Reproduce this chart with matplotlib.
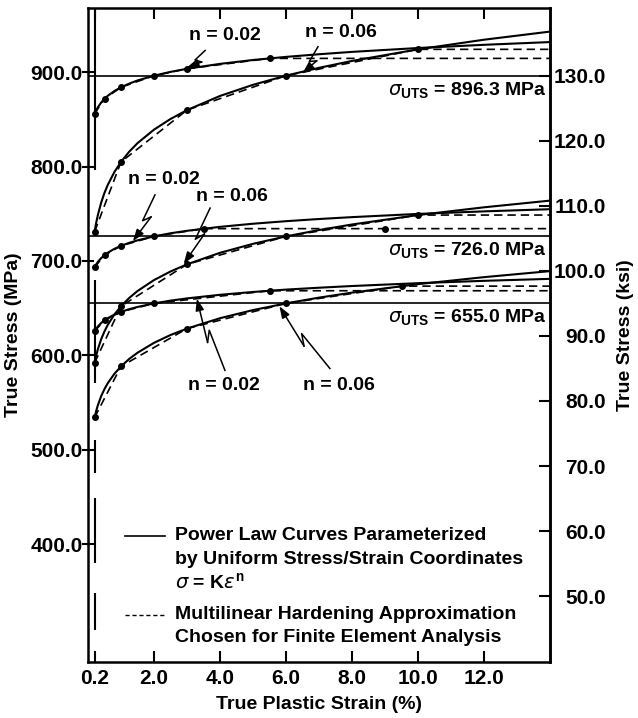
import numpy as np
import matplotlib.pyplot as plt

plt.rcParams['font.family'] = ['Liberation Sans', 'DejaVu Sans']
plt.rcParams['font.weight'] = 'bold'
plt.rcParams['font.size'] = 14
plt.rcParams['axes.labelweight'] = 'bold'
plt.rcParams['mathtext.fontset'] = 'custom'
plt.rcParams['mathtext.it'] = 'DejaVu Sans:style=italic:weight=normal'
plt.rcParams['mathtext.rm'] = 'Liberation Sans:weight=bold'
plt.rcParams['mathtext.bf'] = 'Liberation Sans:weight=bold'

# strain points (%)
strain = [0.2, 0.25, 0.3, 0.4, 0.5, 0.6, 0.8, 1.0, 1.25, 1.5, 2.0, 2.5, 3.0,
          4.0, 5.0, 6.0, 7.0, 8.0, 10.0, 12.0, 14.0]

# power law curves, true stress (MPa)
s896_n02 = [856.0, 859.8, 862.9, 867.9, 871.8, 875.0, 880.0, 884.0, 887.9, 891.2, 896.3,
            900.3, 903.6, 908.8, 912.9, 916.2, 919.0, 921.5, 925.6, 929.0, 931.9]
s896_n06 = [730.9, 740.7, 748.8, 761.9, 772.2, 780.6, 794.2, 804.9, 815.8, 824.8, 839.1,
            850.4, 859.8, 874.8, 886.6, 896.3, 904.6, 911.9, 924.2, 934.4, 943.0]
s726_n02 = [693.3, 696.4, 699.0, 703.0, 706.1, 708.7, 712.8, 716.0, 719.2, 721.8, 726.0,
            729.3, 731.9, 736.1, 739.4, 742.1, 744.4, 746.4, 749.8, 752.5, 754.8]
s726_n06 = [592.0, 600.0, 606.6, 617.1, 625.4, 632.3, 643.3, 652.0, 660.8, 668.1, 679.7,
            688.8, 696.4, 708.6, 718.1, 726.0, 732.7, 738.6, 748.6, 756.8, 763.9]
s655_n02 = [625.5, 628.3, 630.6, 634.3, 637.1, 639.4, 643.1, 646.0, 648.9, 651.2, 655.0,
            657.9, 660.3, 664.1, 667.1, 669.6, 671.6, 673.4, 676.4, 678.9, 681.0]
s655_n06 = [534.1, 541.3, 547.2, 556.8, 564.3, 570.5, 580.4, 588.2, 596.2, 602.7, 613.2,
            621.5, 628.3, 639.3, 647.9, 655.0, 661.1, 666.4, 675.4, 682.8, 689.2]

# multilinear hardening approximations (break points, last one is the flat end)
ml896_n02_x = [0.2, 0.5, 1.0, 2.0, 3.0, 5.5, 14.0]
ml896_n02_y = [856.0, 871.8, 884.0, 896.3, 903.6, 914.6, 914.6]
ml896_n06_x = [0.2, 1.0, 3.0, 6.0, 10.0, 14.0]
ml896_n06_y = [730.9, 804.9, 859.8, 896.3, 924.2, 924.2]
ml726_n02_x = [0.2, 0.5, 1.0, 2.0, 3.5, 9.0, 14.0]
ml726_n02_y = [693.3, 706.1, 716.0, 726.0, 734.2, 734.2, 734.2]
ml726_n06_x = [0.2, 1.0, 3.0, 6.0, 10.0, 14.0]
ml726_n06_y = [592.0, 652.0, 696.4, 726.0, 748.6, 748.6]
ml655_n02_x = [0.2, 0.5, 1.0, 2.0, 5.5, 14.0]
ml655_n02_y = [625.5, 637.1, 646.0, 655.0, 668.4, 668.4]
ml655_n06_x = [0.2, 1.0, 3.0, 6.0, 9.5, 14.0]
ml655_n06_y = [534.1, 588.2, 628.3, 655.0, 673.3, 673.3]

uts = [896.3, 726.0, 655.0]
uts_labels = ['896.3', '726.0', '655.0']

# broken vertical line at 0.2 % strain (MPa ranges)
vert_lo = [309, 380, 475, 571, 796]
vert_hi = [348, 449, 510, 680, 968]

x_ticks = [0.2, 2.0, 4.0, 6.0, 8.0, 10.0, 12.0]
mpa_ticks = [400.0, 500.0, 600.0, 700.0, 800.0, 900.0]
ksi_ticks = [50.0, 60.0, 70.0, 80.0, 90.0, 100.0, 110.0, 120.0, 130.0]
MPA_PER_KSI = 6.895

fig = plt.figure(figsize=(6.38, 7.18), dpi=100)
ax = fig.add_axes([88 / 638, 56 / 718, 462 / 638, 654 / 718])
ax.set_xlim(0, 14)
ax.set_ylim(275, 968)

for s in [s896_n02, s896_n06, s726_n02, s726_n06, s655_n02, s655_n06]:
    ax.plot(strain, s, color='k', lw=1.5, solid_capstyle='butt')

for mx, my in [(ml896_n02_x, ml896_n02_y), (ml896_n06_x, ml896_n06_y),
               (ml726_n02_x, ml726_n02_y), (ml726_n06_x, ml726_n06_y),
               (ml655_n02_x, ml655_n02_y), (ml655_n06_x, ml655_n06_y)]:
    ax.plot(mx, my, color='k', lw=1.2, dashes=(5, 3))
    ax.plot(mx[:-1], my[:-1], 'o', color='k', ms=4)

for u, lab in zip(uts, uts_labels):
    ax.axhline(u, color='k', lw=1.2)
    ax.text(13.9, u - 5, r'$\it{\sigma}_{\mathbf{UTS}}$ = ' + lab + ' MPa',
            ha='right', va='top', fontsize=14)

ax.vlines([0.2] * len(vert_lo), vert_lo, vert_hi, color='k', lw=1.5)


def leader(label, text_xy, start, tip):
    ax.text(text_xy[0], text_xy[1], label, ha='center', va='center', fontsize=14)
    p0 = ax.transData.transform(start)
    p1 = ax.transData.transform(tip)
    d = p1 - p0
    perp = np.array([-d[1], d[0]]) / np.hypot(d[0], d[1])
    a = p0 + 0.56 * d
    b = p0 + 0.42 * d + 6 * perp
    inv = ax.transData.inverted()
    pa, pb = inv.transform(a), inv.transform(b)
    ax.plot([start[0], pa[0], pb[0]], [start[1], pa[1], pb[1]], color='k', lw=1.1)
    ax.annotate('', xy=tip, xytext=pb,
                arrowprops=dict(arrowstyle='-|>,head_length=0.5,head_width=0.18',
                                color='k', lw=1.1, shrinkA=0, shrinkB=0))


leader('n = 0.02', (4.15, 939), (3.55, 923), (3.0, 905))
leader('n = 0.06', (7.67, 942), (6.97, 927), (6.5, 899))
leader('n = 0.02', (2.3, 786), (2.03, 770), (1.36, 721))
leader('n = 0.06', (4.36, 768), (3.7, 756), (2.9, 697))
leader('n = 0.02', (4.12, 568), (4.15, 584), (3.3, 660))
leader('n = 0.06', (7.6, 568), (7.33, 586), (5.8, 652))

# legend drawn by hand
ax.plot([0.080, 0.167], [0.193, 0.193], color='k', lw=1.2, transform=ax.transAxes)
ax.plot([0.080, 0.167], [0.072, 0.072], color='k', lw=1.0, dashes=(3, 2),
        transform=ax.transAxes)
ax.text(0.188, 0.193, 'Power Law Curves Parameterized', transform=ax.transAxes,
        va='center', fontsize=14)
ax.text(0.188, 0.157, 'by Uniform Stress/Strain Coordinates', transform=ax.transAxes,
        va='center', fontsize=14)
ax.text(0.188, 0.121, r'$\it{\sigma}$ = K$\it{\epsilon}^{\mathrm{n}}$', transform=ax.transAxes,
        va='center', fontsize=14)
ax.text(0.188, 0.072, 'Multilinear Hardening Approximation', transform=ax.transAxes,
        va='center', fontsize=14)
ax.text(0.188, 0.037, 'Chosen for Finite Element Analysis', transform=ax.transAxes,
        va='center', fontsize=14)

ax.set_xticks(x_ticks)
ax.set_xticklabels([f'{v:.1f}' for v in x_ticks], fontsize=15)
ax.set_yticks(mpa_ticks)
ax.set_yticklabels([f'{v:.1f}' for v in mpa_ticks], fontsize=15)
ax.tick_params(axis='x', direction='in', length=8, width=1.5, top=True, pad=5)
ax.tick_params(axis='y', direction='inout', length=8, width=1.5, right=False, pad=0)
ax.set_xlabel('True Plastic Strain (%)', fontsize=14, fontweight='bold', labelpad=6)
ax.set_ylabel('True Stress (MPa)', fontsize=14, fontweight='bold', labelpad=6)
for sp in ax.spines.values():
    sp.set_linewidth(1.8)

sec = ax.secondary_yaxis('right', functions=(lambda m: m / MPA_PER_KSI,
                                             lambda k: k * MPA_PER_KSI))
sec.set_yticks(ksi_ticks)
sec.set_yticklabels([f'{v:.1f}' for v in ksi_ticks], fontsize=15)
sec.tick_params(direction='in', length=8, width=1.5, pad=40)
for lbl in sec.get_yticklabels():
    lbl.set_ha('right')
sec.spines['right'].set_linewidth(1.8)
sec.set_ylabel('True Stress (ksi)', fontsize=14, fontweight='bold', labelpad=8)

fig.savefig('out.png', dpi=100)
